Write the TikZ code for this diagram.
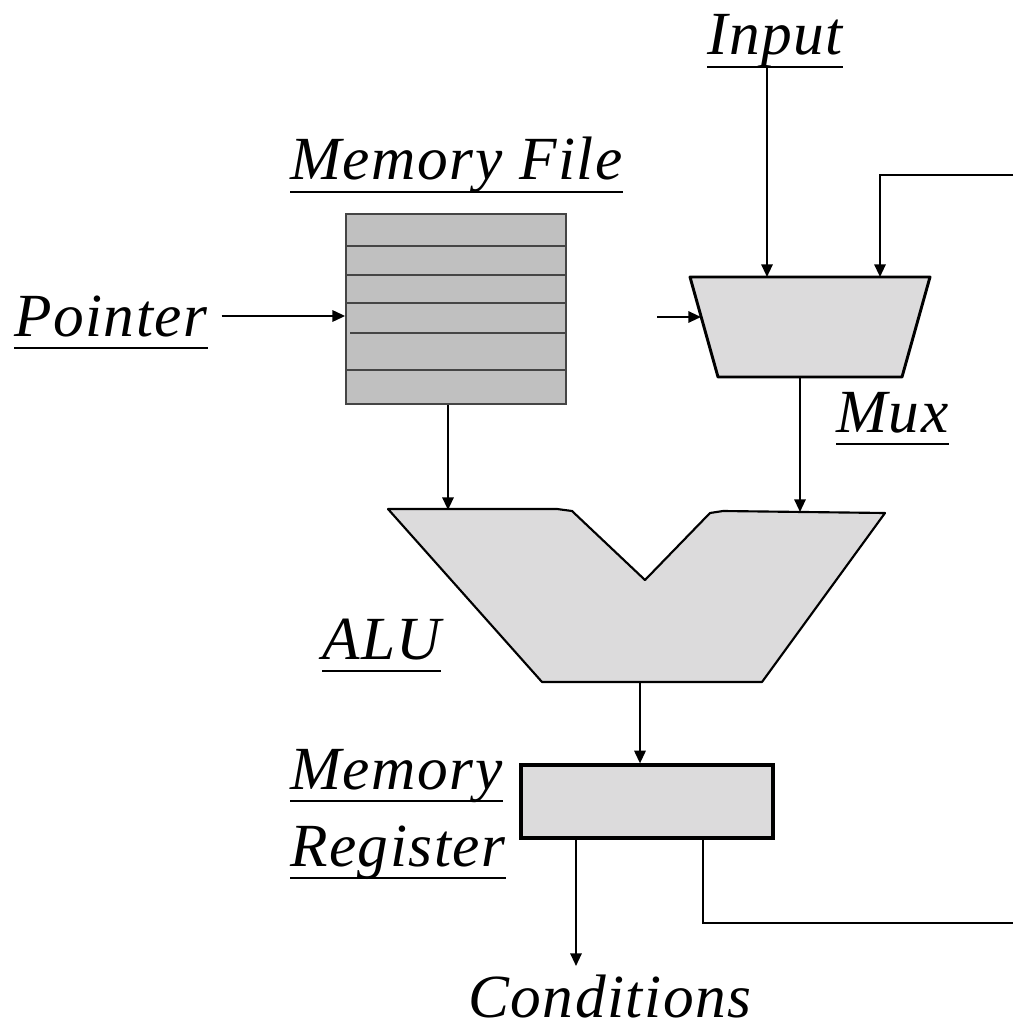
\documentclass[tikz,border=0pt]{standalone}
\usepackage{fontspec}
\setmainfont{Liberation Serif}[LetterSpace=2.5]
\usetikzlibrary{arrows.meta,calc}
\definecolor{mfgray}{HTML}{C0C0C0}
\definecolor{mfedge}{HTML}{454545}
\definecolor{lightfill}{HTML}{DCDBDC}
\begin{document}
\begin{tikzpicture}[x=0.75pt,y=-0.75pt,
  lbl/.style={inner sep=0pt,anchor=base west,font=\fontsize{46}{50}\selectfont\itshape},
  uline/.style={line width=1.6pt},
  wire/.style={line width=1.5pt},
  arr/.style={wire,-{Triangle[length=9.5pt,width=8.5pt]}},
  part/.style={fill=lightfill,line width=1.6pt,line join=round},
]
\useasboundingbox (0,0) rectangle (1013,1034);

% labels
\node[lbl] (tin) at (707,55) {Input};
\node[lbl] (tmf) at (290,180) {Memory File};
\node[lbl] (tptr) at (14,336) {Pointer};
\node[lbl] (tmux) at (836,432) {Mux};
\node[lbl] (talu) at (322,659) {ALU};
\node[lbl] (tmem) at (290,789) {Memory};
\node[lbl] (treg) at (290,866) {Register};
\node[lbl] (tcond) at (468,1017) {Conditions};
\foreach \n in {tin,tmf,tptr,tmux,talu,tmem,treg}{
  \draw[uline] ($(\n.base west)+(0,12)$) -- ($(\n.base east)+(0,12)$);
}

% memory file
\node[draw=mfedge,fill=mfgray,line width=1.3pt,inner sep=0pt,
      minimum width=165pt,minimum height=142.5pt] (mf) at (456,309) {};
\foreach \yy in {246,275,303,370}{
  \draw[mfedge,line width=1.1pt] (mf.west |- 0,\yy) -- (mf.east |- 0,\yy);
}
\draw[mfedge,line width=1.1pt] ($(mf.west |- 0,333)+(5,0)$) -- (mf.east |- 0,333);

% mux
\coordinate (muxTL) at (690,277);
\coordinate (muxTR) at (930,277);
\coordinate (muxBR) at (902,377);
\coordinate (muxBL) at (718,377);
\draw[part,line width=2.2pt] (muxTL) -- (muxTR) -- (muxBR) -- (muxBL) -- cycle;
\coordinate (muxL) at (701,317);
\coordinate (muxIn1) at (767,277);
\coordinate (muxIn2) at (880,277);
\coordinate (muxOut) at (800,377);

% ALU
\draw[part] (388,509) -- (557,509) -- (572,511) -- (645,580) -- (710,513)
  -- (723,511) -- (885,513) -- (762,682) -- (542,682) -- cycle;
\coordinate (aluA) at (448,510);
\coordinate (aluB) at (800,512);
\coordinate (aluOut) at (640,682);

% memory register
\node[draw,fill=lightfill,line width=2.4pt,inner sep=0pt,
      minimum width=189pt,minimum height=54.75pt] (reg) at (647,801.5) {};

% off-page feedback ends
\coordinate (fbTop) at (1013,175);
\coordinate (fbBot) at (1013,923);
\coordinate (pIn) at (657,317);
\coordinate (condTip) at (576,966);

% connectors
\draw[arr] ($(tptr.base east)+(14,-20)$) -- (mf.west |- 0,316);
\draw[arr] ($(tin.base west)+(60,12)$) -- (muxIn1);
\draw[arr] (fbTop) -| (muxIn2);
\draw[arr] (pIn) -- (muxL);
\draw[arr] (muxOut) -- (aluB);
\draw[arr] (mf.south -| aluA) -- (aluA);
\draw[arr] (aluOut) -- (reg.north -| aluOut);
\draw[arr] (reg.south -| condTip) -- (condTip);
\draw[wire,line width=2pt] (reg.south -| 703,0) |- (fbBot);
\end{tikzpicture}
\end{document}
